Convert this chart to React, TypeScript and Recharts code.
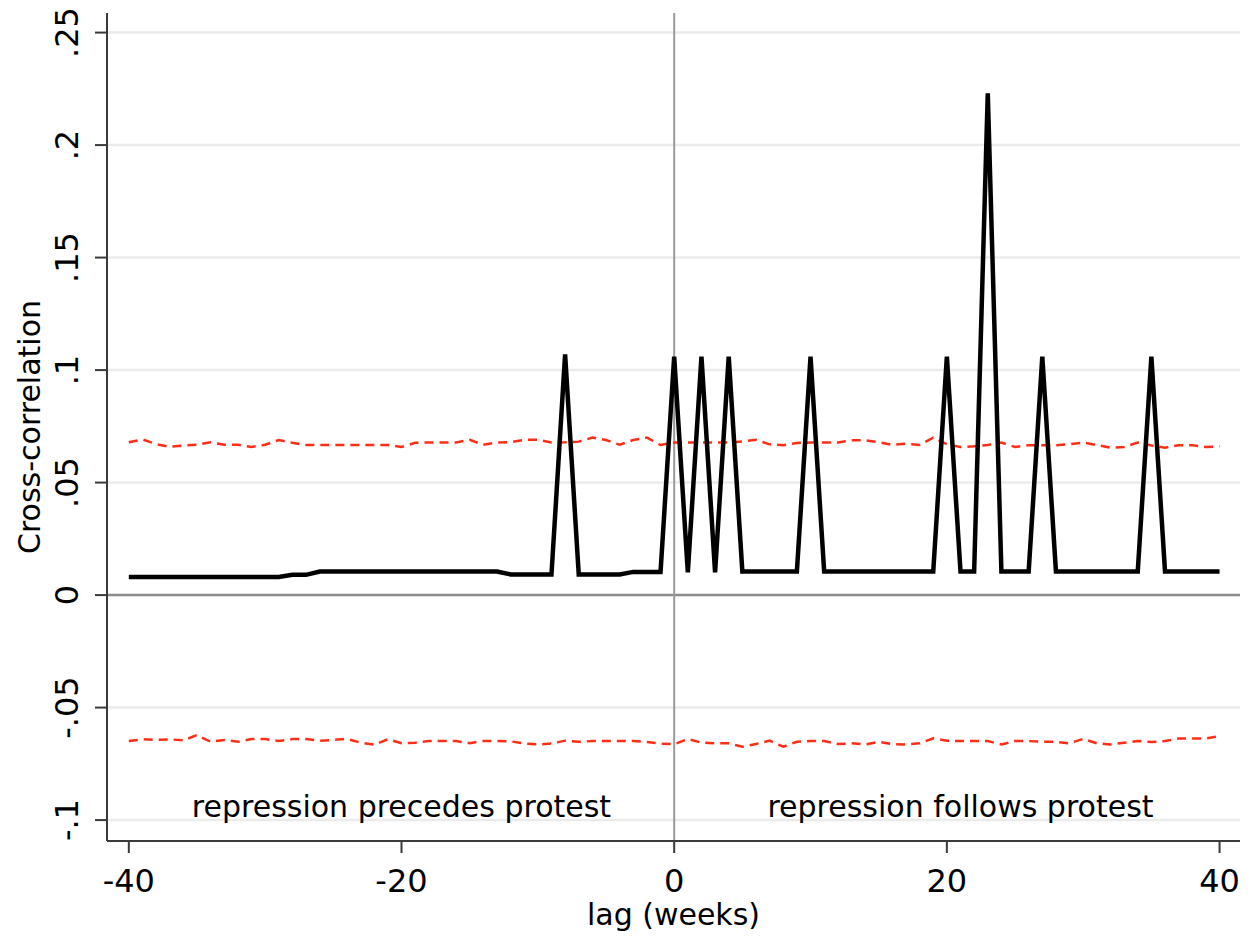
import React from 'react';
import {
  LineChart, Line, XAxis, YAxis,
  ReferenceLine, ReferenceDot, Label
} from 'recharts';

// lag in weeks
const lags = [
  -40, -39, -38, -37, -36, -35, -34, -33, -32, -31,
  -30, -29, -28, -27, -26, -25, -24, -23, -22, -21,
  -20, -19, -18, -17, -16, -15, -14, -13, -12, -11,
  -10, -9, -8, -7, -6, -5, -4, -3, -2, -1,
  0, 1, 2, 3, 4, 5, 6, 7, 8, 9,
  10, 11, 12, 13, 14, 15, 16, 17, 18, 19,
  20, 21, 22, 23, 24, 25, 26, 27, 28, 29,
  30, 31, 32, 33, 34, 35, 36, 37, 38, 39,
  40,
];

const crossCorr = [
  0.008, 0.008, 0.008, 0.008, 0.008, 0.008, 0.008, 0.008, 0.008, 0.008,
  0.008, 0.008, 0.009, 0.009, 0.0105, 0.0105, 0.0105, 0.0105, 0.0105, 0.0105,
  0.0105, 0.0105, 0.0105, 0.0105, 0.0105, 0.0105, 0.0105, 0.0105, 0.0092, 0.0092,
  0.0092, 0.0092, 0.107, 0.0092, 0.0092, 0.0092, 0.0092, 0.0103, 0.0103, 0.0103,
  0.106, 0.0101, 0.106, 0.0101, 0.106, 0.0105, 0.0105, 0.0105, 0.0105, 0.0105,
  0.106, 0.0105, 0.0105, 0.0105, 0.0105, 0.0105, 0.0105, 0.0105, 0.0105, 0.0105,
  0.106, 0.0105, 0.0105, 0.223, 0.0105, 0.0105, 0.0105, 0.106, 0.0105, 0.0105,
  0.0105, 0.0105, 0.0105, 0.0105, 0.0105, 0.106, 0.0105, 0.0105, 0.0105, 0.0105,
  0.0105,
];

const upperBand = [
  0.0679, 0.0692, 0.0671, 0.0659, 0.0665, 0.0668, 0.0679, 0.0668, 0.0668, 0.0658,
  0.0668, 0.0689, 0.0677, 0.0667, 0.0667, 0.0667, 0.0667, 0.0667, 0.0667, 0.0667,
  0.0658, 0.0677, 0.0678, 0.0678, 0.0678, 0.069, 0.0668, 0.0678, 0.068, 0.069,
  0.069, 0.0678, 0.0679, 0.0682, 0.07, 0.0689, 0.0668, 0.0689, 0.07, 0.0667,
  0.0678, 0.0678, 0.0678, 0.0678, 0.0678, 0.0683, 0.069, 0.067, 0.0666, 0.0676,
  0.0678, 0.0678, 0.0678, 0.0688, 0.0688, 0.068, 0.0667, 0.0673, 0.0667, 0.07,
  0.067, 0.0658, 0.0661, 0.0667, 0.0678, 0.0658, 0.0666, 0.0666, 0.0666, 0.067,
  0.0678, 0.0667, 0.0655, 0.0658, 0.0678, 0.0665, 0.0655, 0.0666, 0.0666, 0.0658,
  0.0661,
];

const lowerBand = [
  -0.0649, -0.0641, -0.0644, -0.0641, -0.0646, -0.0622, -0.0652, -0.0644, -0.0652, -0.064,
  -0.064, -0.0649, -0.064, -0.064, -0.0647, -0.0644, -0.0639, -0.0656, -0.0665, -0.0641,
  -0.0658, -0.0656, -0.0649, -0.0649, -0.0649, -0.0658, -0.0649, -0.0649, -0.065, -0.066,
  -0.0664, -0.066, -0.0647, -0.0652, -0.0649, -0.0649, -0.0649, -0.0649, -0.0653, -0.066,
  -0.0663, -0.064, -0.0656, -0.0659, -0.0659, -0.0674, -0.0662, -0.0647, -0.0674, -0.0652,
  -0.0649, -0.0649, -0.0662, -0.0659, -0.0664, -0.0652, -0.0662, -0.0664, -0.0659, -0.0637,
  -0.0647, -0.0649, -0.0649, -0.0649, -0.0664, -0.0649, -0.0649, -0.0652, -0.0652, -0.0659,
  -0.0639, -0.0659, -0.0664, -0.0656, -0.0649, -0.0653, -0.0649, -0.0637, -0.0637, -0.0637,
  -0.0627,
];

const xTicks = [-40, -20, 0, 20, 40];
const yTicks = [-0.1, -0.05, 0, 0.05, 0.1, 0.15, 0.2, 0.25];
const yTickLabels = ['-.1', '-.05', '0', '.05', '.1', '.15', '.2', '.25'];

const data = lags.map((lag, i) => ({
  lag,
  cc: crossCorr[i],
  hi: upperBand[i],
  lo: lowerBand[i],
}));

const FONT = '"DejaVu Sans", Verdana, sans-serif';

const YTick = (props: any) => {
  const { x, y, payload } = props;
  const idx = yTicks.indexOf(payload.value);
  const text = idx >= 0 ? yTickLabels[idx] : String(payload.value);
  return (
    <text
      transform={`translate(${x - 15},${y}) rotate(-90)`}
      textAnchor="middle"
      fontSize={32}
      fontFamily={FONT}
      fill="#000"
    >
      {text}
    </text>
  );
};

const XTick = (props: any) => {
  const { x, y, payload } = props;
  return (
    <text x={x} y={y + 37} textAnchor="middle" fontSize={32} fontFamily={FONT} fill="#000">
      {payload.value}
    </text>
  );
};

const YTitle = (props: any) => {
  const { viewBox } = props;
  const cy = viewBox.y + viewBox.height / 2;
  return (
    <text
      transform={`translate(40,${cy}) rotate(-90)`}
      textAnchor="middle"
      fontSize={30}
      fontFamily={FONT}
      fill="#000"
    >
      Cross-correlation
    </text>
  );
};

const noteLabel = (value: string) => ({
  value,
  position: 'center' as const,
  fontSize: 30,
  fontFamily: FONT,
  fill: '#000',
});

export default function App() {
  return (
    <div style={{ position: 'absolute', left: 0, top: 0, background: '#fff' }}>
      <LineChart
        width={1253}
        height={937}
        data={data}
        margin={{ top: 13, right: 13, bottom: 0, left: 0 }}
      >
        <XAxis
          dataKey="lag"
          type="number"
          domain={[-41.6, 41.5]}
          ticks={xTicks}
          allowDataOverflow
          height={96}
          tickSize={12}
          tick={<XTick />}
          axisLine={{ stroke: '#3a3a3a', strokeWidth: 2 }}
          tickLine={{ stroke: '#3a3a3a', strokeWidth: 2 }}
        >
          <Label
            value="lag (weeks)"
            position="insideBottom"
            offset={12}
            fontSize={30}
            fontFamily={FONT}
            fill="#000"
          />
        </XAxis>
        <YAxis
          type="number"
          domain={[-0.1093, 0.2587]}
          ticks={yTicks}
          allowDataOverflow
          width={107}
          tickSize={12}
          tick={<YTick />}
          axisLine={{ stroke: '#3a3a3a', strokeWidth: 2 }}
          tickLine={{ stroke: '#3a3a3a', strokeWidth: 2 }}
        >
          <Label content={<YTitle />} />
        </YAxis>
        {yTicks.filter((v) => v !== 0).map((v) => (
          <ReferenceLine key={v} y={v} stroke="#ebebeb" strokeWidth={2.5} />
        ))}
        <ReferenceLine y={0} stroke="#8c8c8c" strokeWidth={2.5} />
        <ReferenceLine x={0} stroke="#9a9a9a" strokeWidth={2} />
        <Line
          type="linear"
          dataKey="hi"
          stroke="#ff2d16"
          strokeWidth={2.5}
          strokeDasharray="9 6"
          dot={false}
          activeDot={false}
          isAnimationActive={false}
        />
        <Line
          type="linear"
          dataKey="lo"
          stroke="#ff2d16"
          strokeWidth={2.5}
          strokeDasharray="9 6"
          dot={false}
          activeDot={false}
          isAnimationActive={false}
        />
        <Line
          type="linear"
          dataKey="cc"
          stroke="#000"
          strokeWidth={4.5}
          dot={false}
          activeDot={false}
          isAnimationActive={false}
        />
        <ReferenceDot x={-20} y={-0.0938} r={0} fill="none" stroke="none" label={noteLabel('repression precedes protest')} />
        <ReferenceDot x={21} y={-0.0938} r={0} fill="none" stroke="none" label={noteLabel('repression follows protest')} />
      </LineChart>
    </div>
  );
}
